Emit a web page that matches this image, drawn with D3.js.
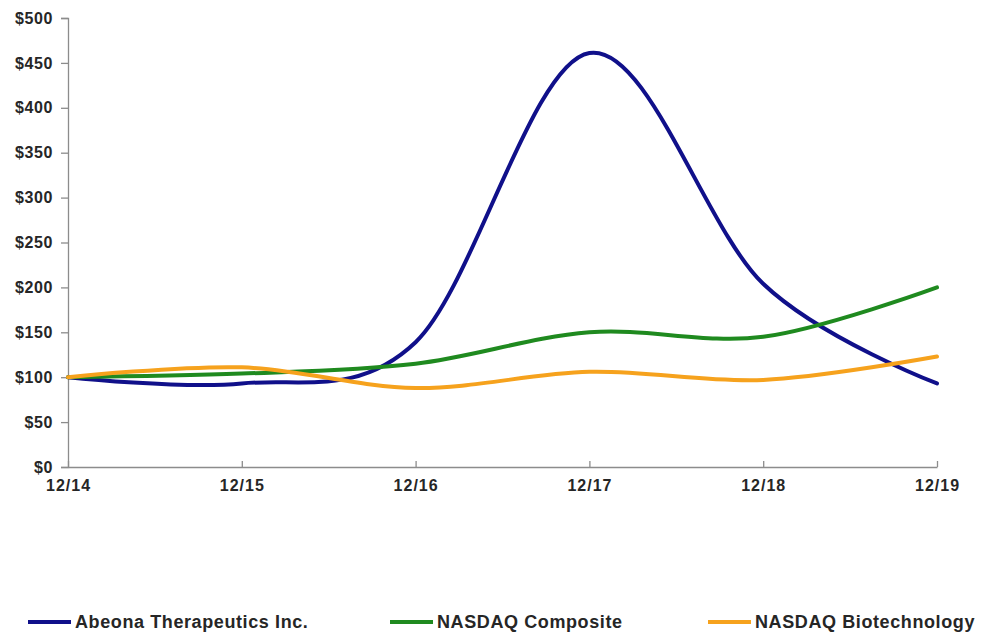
<!DOCTYPE html>
<html><head><meta charset="utf-8">
<script src="https://cdn.jsdelivr.net/npm/d3@7"></script>
<style>body{margin:0;background:#fff;} svg{display:block;}</style>
</head><body>
<svg id="c" width="982" height="633"></svg>
<script>
const categories = ["12/14","12/15","12/16","12/17","12/18","12/19"];
const abeona = [100, 93, 139, 461, 204, 93];
const nasdaqComposite = [100, 104, 115, 150, 145, 200];
const nasdaqBiotech = [100, 111, 88, 106, 97, 123];
const yTicks = [0,50,100,150,200,250,300,350,400,450,500];
const seriesNames = ["Abeona Therapeutics Inc.","NASDAQ Composite","NASDAQ Biotechnology"];
const colors = ["#10108a","#1f8a1f","#f6a21d"];

const svg = d3.select("#c");
const x = d3.scalePoint().domain(categories).range([68, 937]);
const y = d3.scaleLinear().domain([0,500]).range([467, 18]);
const font = "'Liberation Sans', Arial, sans-serif";
const txt = "#262626";

// y axis
const ya = svg.append("g").attr("transform","translate(68,0)")
  .call(d3.axisLeft(y).tickValues(yTicks).tickSize(7).tickPadding(8).tickFormat(d => "$" + d));
ya.select(".domain").attr("stroke","#8c8c8c").attr("stroke-width",1.3);
ya.selectAll(".tick line").attr("stroke","#8c8c8c").attr("stroke-width",1.3);
ya.selectAll("text").attr("font-family",font).attr("font-weight","bold").attr("font-size",16)
  .attr("letter-spacing","0.6px").attr("fill",txt);

// x axis
const xa = svg.append("g").attr("transform","translate(0,467)")
  .call(d3.axisBottom(x).tickSizeInner(-6).tickSizeOuter(0).tickPadding(13));
xa.select(".domain").attr("stroke","#8c8c8c").attr("stroke-width",1.3);
xa.selectAll(".tick line").attr("stroke","#8c8c8c").attr("stroke-width",1.3);
xa.selectAll("text").attr("font-family",font).attr("font-weight","bold").attr("font-size",16)
  .attr("letter-spacing","1px").attr("fill",txt);

const line = d3.line().x((d,i) => x(categories[i])).y(d => y(d)).curve(d3.curveCatmullRom.alpha(0));
const data = [abeona, nasdaqComposite, nasdaqBiotech];
[0,1,2].forEach(i => {
  svg.append("path").attr("d", line(data[i])).attr("fill","none")
    .attr("stroke", colors[i]).attr("stroke-width",4).attr("stroke-linecap","round");
});

// legend
const legX = [28, 390, 708];
const lg = svg.append("g");
seriesNames.forEach((n,i) => {
  lg.append("line").attr("x1",legX[i]).attr("x2",legX[i]+43).attr("y1",622).attr("y2",622)
    .attr("stroke",colors[i]).attr("stroke-width",4);
  lg.append("text").attr("x",legX[i]+47).attr("y",628).text(n)
    .attr("font-family",font).attr("font-weight","bold").attr("font-size",18)
    .attr("letter-spacing","0.6px").attr("fill",txt);
});
</script>
</body></html>
